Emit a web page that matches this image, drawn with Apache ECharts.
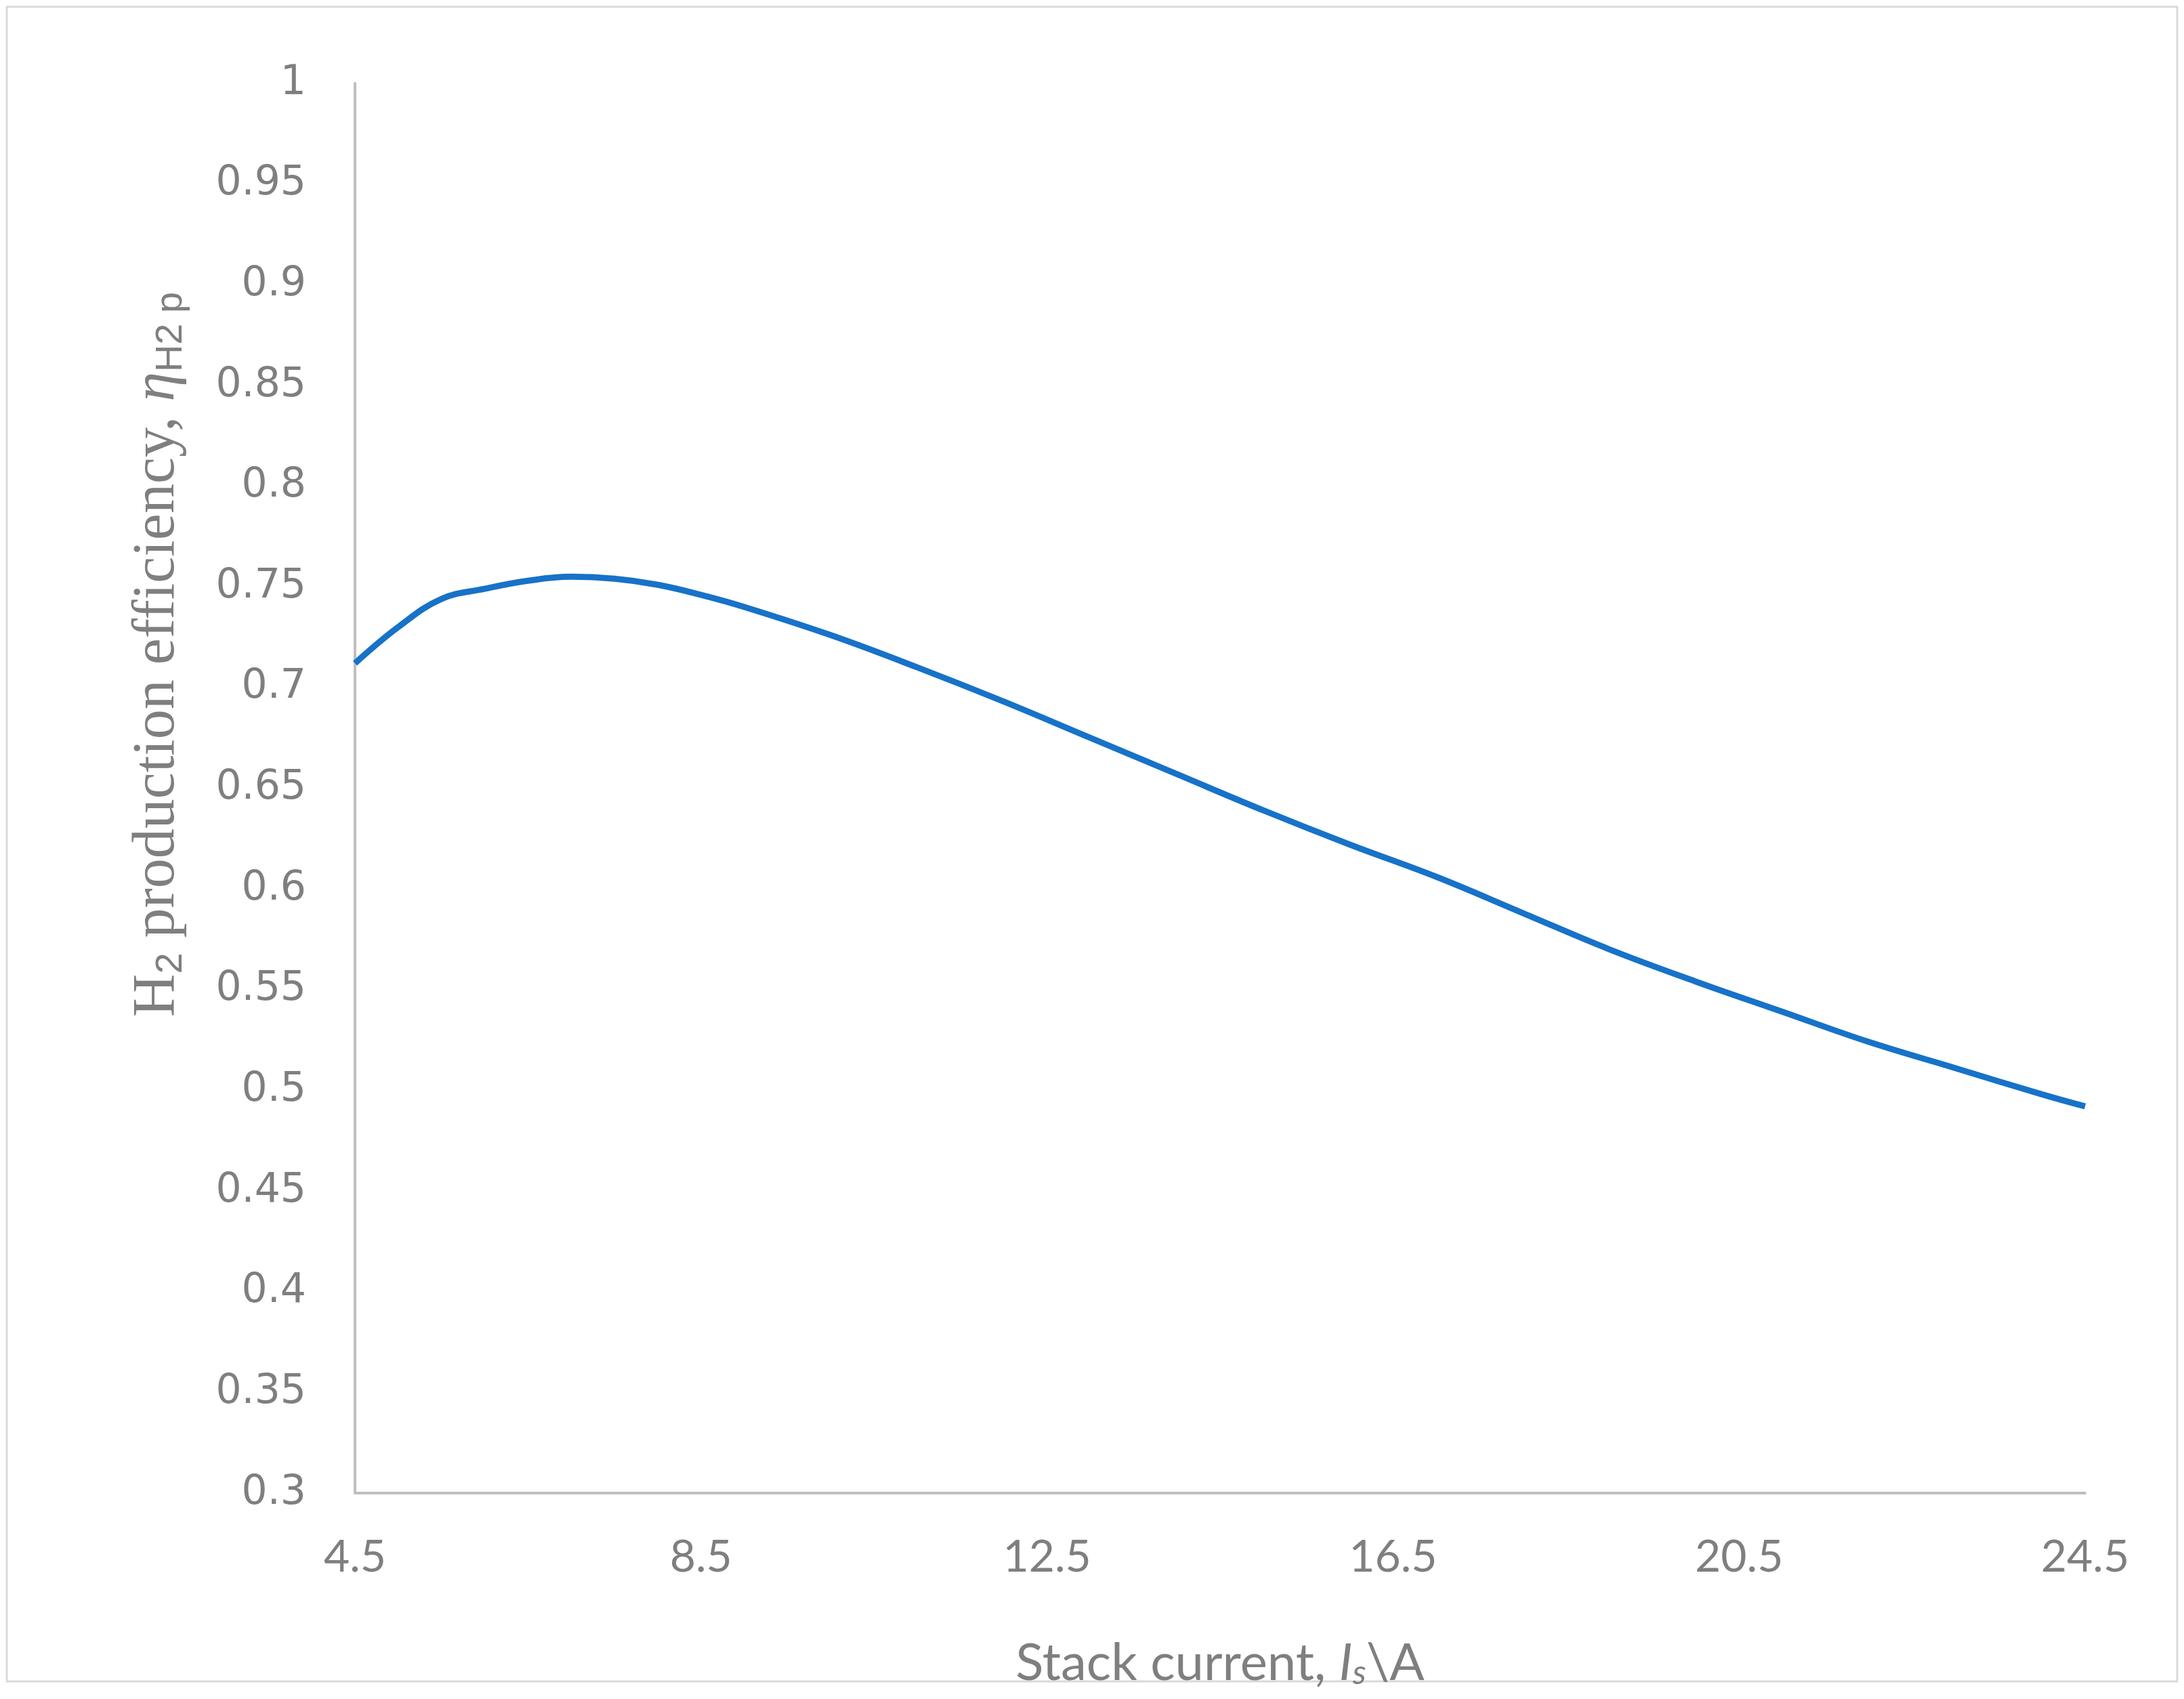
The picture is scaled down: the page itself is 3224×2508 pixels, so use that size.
<!DOCTYPE html>
<html>
<head>
<meta charset="utf-8">
<script src="https://cdn.jsdelivr.net/npm/echarts@6/dist/echarts.min.js"></script>
<style>
  html, body { margin: 0; padding: 0; background: #fff; }
  #chart { width: 3224px; height: 2508px; }
</style>
</head>
<body>
<div id="chart"></div>
<script>
// stack current (A) and H2 production efficiency
var current = [4.5, 5, 5.5, 6, 6.5, 7, 7.5, 8, 8.5, 9, 10, 11, 12, 13, 14, 15, 16, 17, 18, 19, 20, 21, 22, 23, 24, 24.5];
var efficiency = [0.712, 0.730, 0.744, 0.749, 0.753, 0.755, 0.754, 0.751, 0.746, 0.740, 0.726, 0.710, 0.693, 0.675, 0.657, 0.639, 0.622, 0.606, 0.588, 0.570, 0.554, 0.539, 0.524, 0.511, 0.498, 0.492];
var xTicks = [4.5, 8.5, 12.5, 16.5, 20.5, 24.5];

var grey = '#7f7f7f';
var chart = echarts.init(document.getElementById('chart'));

chart.setOption({
    backgroundColor: '#fff',
    animation: false,
    grid: { left: 524, right: 146, top: 123, bottom: 304 },
    graphic: [
        {
            type: 'rect',
            shape: { x: 10, y: 10, width: 3204, height: 2472 },
            style: { fill: 'none', stroke: '#d9d9d9', lineWidth: 3 }
        },
        {
            type: 'text',
            x: 233, y: 966,
            rotation: Math.PI / 2,
            style: {
                text: 'H{sub|2} production efficiency, {it|η}{sub|H2 p}',
                fill: grey,
                font: '88px "Liberation Serif"',
                align: 'center',
                verticalAlign: 'middle',
                rich: {
                    sub: { fontSize: 56, fill: grey, fontFamily: 'Liberation Sans', padding: [40, 0, 0, 0] },
                    it: { fontSize: 88, fill: grey, fontStyle: 'italic', fontFamily: 'Liberation Serif' }
                }
            }
        }
    ],
    xAxis: {
        type: 'value',
        min: 4.5,
        max: 24.5,
        name: 'Stack current, {it|I}{sub|s}\\A',
        nameLocation: 'middle',
        nameGap: 211,
        nameTextStyle: {
            color: grey, fontSize: 76, fontFamily: 'Lato',
            rich: {
                it: { fontSize: 76, color: grey, fontStyle: 'italic', fontFamily: 'Lato' },
                sub: { fontSize: 50, color: grey, fontStyle: 'italic', fontFamily: 'Lato', padding: [30, 0, 0, 0] }
            }
        },
        axisLine: { lineStyle: { color: '#bfbfbf', width: 4 } },
        axisTick: { show: false, customValues: xTicks },
        splitLine: { show: false },
        axisLabel: {
            customValues: xTicks,
            color: grey, fontSize: 66, fontFamily: 'Lato', margin: 62,
            formatter: function (v) { return v.toFixed(1); }
        }
    },
    yAxis: {
        type: 'value',
        min: 0.3,
        max: 1,
        interval: 0.05,
        axisLine: { show: true, lineStyle: { color: '#bfbfbf', width: 4 } },
        axisTick: { show: false },
        splitLine: { show: false },
        axisLabel: {
            color: grey, fontSize: 60, fontFamily: 'DejaVu Sans', margin: 72,
            formatter: function (v) { return String(+v.toFixed(2)); }
        }
    },
    series: [{
        type: 'line',
        data: current.map(function (x, i) { return [x, efficiency[i]]; }),
        smooth: 0.4,
        symbol: 'none',
        lineStyle: { color: '#1772c8', width: 9 }
    }]
});
</script>
</body>
</html>
